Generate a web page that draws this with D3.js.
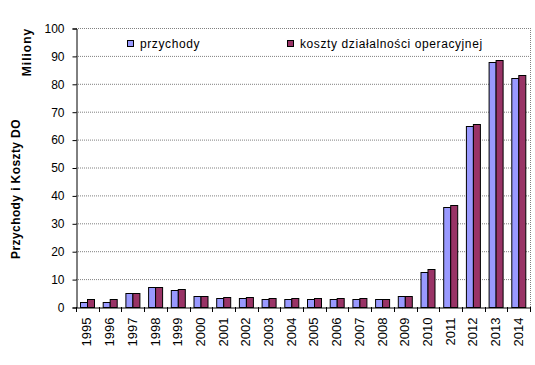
<!DOCTYPE html>
<html><head><meta charset="utf-8">
<script src="https://cdn.jsdelivr.net/npm/d3@7"></script>
<style>body{margin:0;background:#fff}svg{display:block}text{font-family:Arial,"Liberation Sans",sans-serif}</style>
</head><body>
<svg id="c" width="535" height="365"></svg>
<script>
const years = ["1995","1996","1997","1998","1999","2000","2001","2002","2003","2004","2005","2006","2007","2008","2009","2010","2011","2012","2013","2014"];
const przychody = [1.8,1.8,5.0,7.1,6.1,3.9,3.2,3.2,2.9,2.9,2.9,2.9,2.9,2.9,3.9,12.5,35.7,65.0,87.9,82.1];
const koszty = [3.0,3.0,5.0,7.1,6.4,3.9,3.6,3.6,3.2,3.2,3.2,3.2,3.2,2.9,3.9,13.6,36.4,65.7,88.6,83.2];
const seriesNames = ["przychody","koszty działalności operacyjnej"];
const colors = ["#9999ff","#993366"];
const yTicks = [0,10,20,30,40,50,60,70,80,90,100];

const svg = d3.select("#c");
const L=76, R=530, T=28, B=307;
const x = d3.scaleBand().domain(years).range([L,R]);
const y = d3.scaleLinear().domain([0,100]).range([B,T]);
const step = x.step();
const gap = step*0.185;
const xs = d3.scaleBand().domain([0,1]).range([gap, step-gap]);

// gridlines
svg.append("g").selectAll("line").data(yTicks.filter(d=>d>0)).join("line")
  .attr("x1",L).attr("x2",R).attr("y1",d=>y(d)+0.5).attr("y2",d=>y(d)+0.5)
  .attr("stroke","#808080").attr("stroke-width",1).attr("stroke-dasharray","1,1");
// right border
svg.append("line").attr("x1",R+0.5).attr("x2",R+0.5).attr("y1",T).attr("y2",B)
  .attr("stroke","#808080").attr("stroke-dasharray","1,1");

// bars
const data = years.map((yr,i)=>({yr, v:[przychody[i],koszty[i]]}));
const g = svg.append("g").selectAll("g").data(data).join("g")
  .attr("transform",d=>`translate(${x(d.yr)},0)`);
g.selectAll("rect").data(d=>d.v.map((v,k)=>({v,k}))).join("rect")
  .attr("x",d=>Math.round(xs(d.k))+0.5).attr("width",Math.round(xs.bandwidth()))
  .attr("y",d=>Math.round(y(d.v))+0.5).attr("height",d=>B-Math.round(y(d.v)))
  .attr("fill",d=>colors[d.k]).attr("stroke","#000").attr("stroke-width",1);

// y axis
const ya = svg.append("g").attr("transform",`translate(${L+0.5},0.5)`)
  .call(d3.axisLeft(y).tickValues(yTicks).tickSize(4).tickPadding(8).tickFormat(d3.format("d")));
ya.select(".domain").attr("stroke","#000");
ya.selectAll("text").attr("font-size","12px").attr("fill","#000").attr("font-family","Arial,'Liberation Sans',sans-serif");

// x axis
const xa = svg.append("g").attr("transform",`translate(0.5,${B+0.5})`)
  .call(d3.axisBottom(x).tickSize(0).tickFormat(d=>d));
xa.select(".domain").attr("stroke","#000");
xa.selectAll(".tick line").remove();
xa.selectAll(".tick text").attr("font-size","13px").attr("fill","#000")
  .attr("font-family","Arial,'Liberation Sans',sans-serif")
  .attr("transform","rotate(-90)").attr("text-anchor","end")
  .attr("x",-10).attr("y",-1).attr("dy","0.35em");
// category separator ticks
svg.append("g").selectAll("line").data(years.concat(["end"])).join("line")
  .attr("x1",(d,i)=>Math.round(L+i*step)+0.5).attr("x2",(d,i)=>Math.round(L+i*step)+0.5)
  .attr("y1",B).attr("y2",B+5).attr("stroke","#000");

// titles
svg.append("text").attr("transform","translate(20,189) rotate(-90)")
  .attr("text-anchor","middle").attr("font-size","12px").attr("font-weight","bold")
  .attr("letter-spacing","0.4px").text("Przychody i Koszty DO");
svg.append("text").attr("transform","translate(31,52) rotate(-90)")
  .attr("text-anchor","middle").attr("font-size","12px").attr("font-weight","bold")
  .attr("letter-spacing","1px").text("Miliony");

// legend
const legX = [127.5, 287.5];
seriesNames.forEach((n,k)=>{
  svg.append("rect").attr("x",legX[k]).attr("y",40.5).attr("width",6).attr("height",6)
    .attr("fill",colors[k]).attr("stroke","#000");
  svg.append("text").attr("x",legX[k]+12.5).attr("y",47.5).attr("font-size","12px")
    .attr("letter-spacing","0.6px").text(n);
});
</script>
</body></html>
